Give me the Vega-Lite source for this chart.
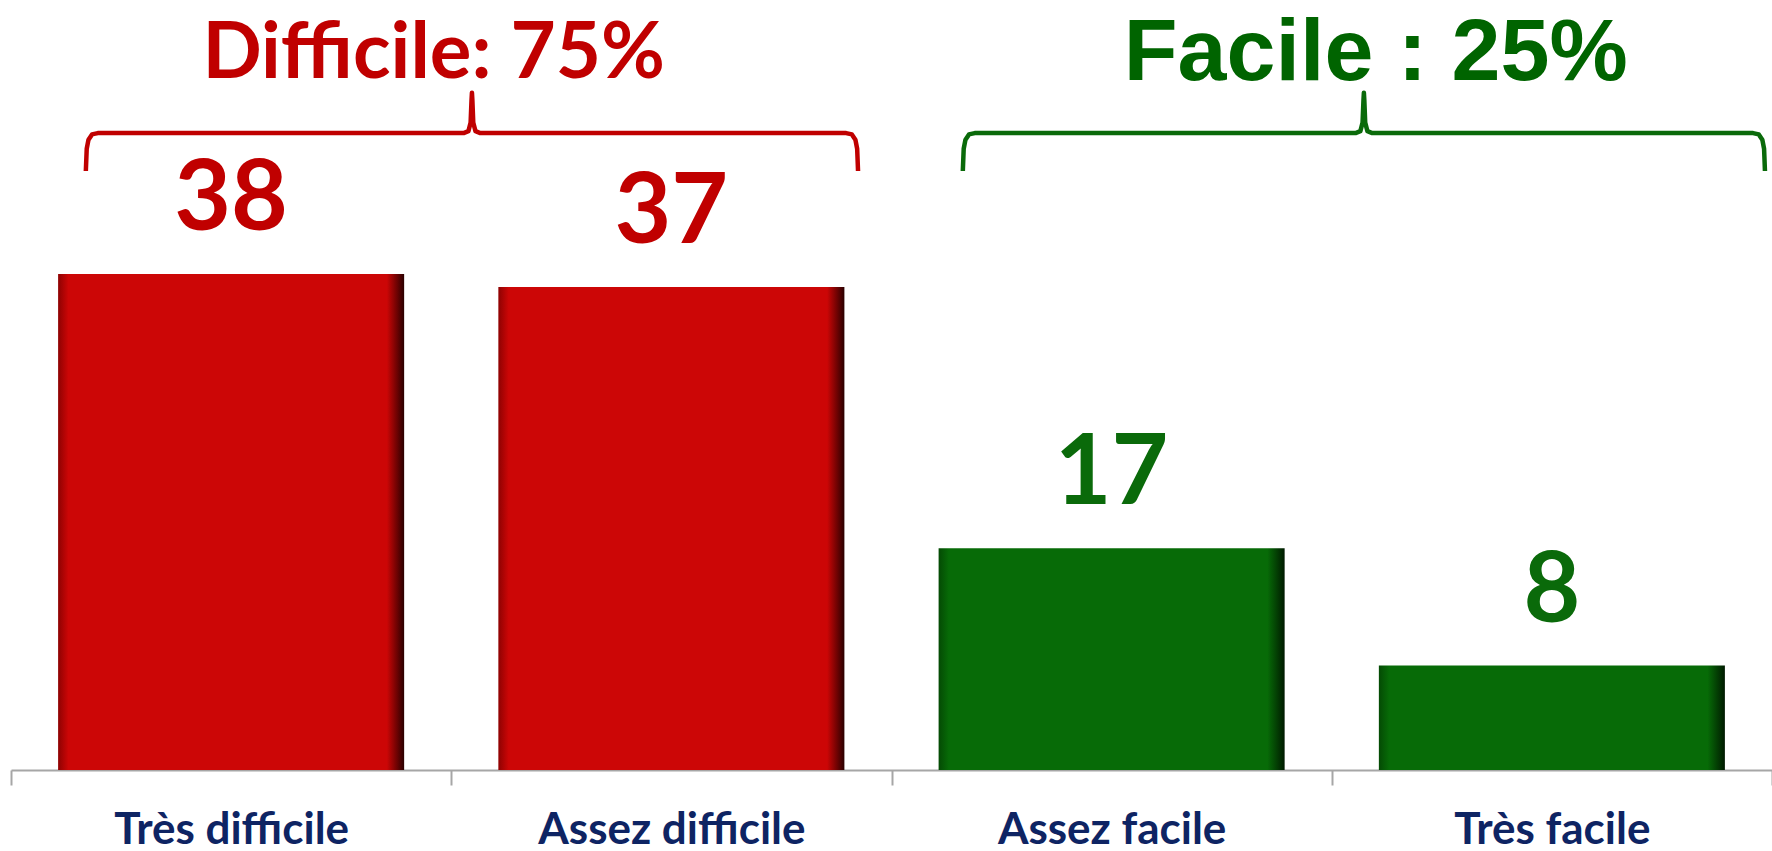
{
  "$schema": "https://vega.github.io/schema/vega-lite/v6.json",
  "width": 1761,
  "height": 770,
  "autosize": {"type": "none"},
  "padding": {"left": 11, "top": 0, "right": 0, "bottom": 81},
  "background": "white",
  "config": {"view": {"stroke": null}},
  "datasets": {
    "bars": [
      {"cat": "Très difficile", "grp": "Difficile", "value": 38},
      {"cat": "Assez difficile", "grp": "Difficile", "value": 37},
      {"cat": "Assez facile", "grp": "Facile", "value": 17},
      {"cat": "Très facile", "grp": "Facile", "value": 8}
    ],
    "braces": [
      {"grp": "Difficile", "ord": 1, "x": 0.170, "y": 45.9},
      {"grp": "Difficile", "ord": 2, "x": 0.172, "y": 47.6},
      {"grp": "Difficile", "ord": 3, "x": 0.176, "y": 48.3},
      {"grp": "Difficile", "ord": 4, "x": 0.184, "y": 48.7},
      {"grp": "Difficile", "ord": 5, "x": 0.197, "y": 48.8},
      {"grp": "Difficile", "ord": 6, "x": 1.028, "y": 48.8},
      {"grp": "Difficile", "ord": 7, "x": 1.039, "y": 48.95},
      {"grp": "Difficile", "ord": 8, "x": 1.044, "y": 49.6},
      {"grp": "Difficile", "ord": 9, "x": 1.046, "y": 51.3},
      {"grp": "Difficile", "ord": 10, "x": 1.047, "y": 51.9},
      {"grp": "Difficile", "ord": 11, "x": 1.048, "y": 51.3},
      {"grp": "Difficile", "ord": 12, "x": 1.050, "y": 49.6},
      {"grp": "Difficile", "ord": 13, "x": 1.055, "y": 48.95},
      {"grp": "Difficile", "ord": 14, "x": 1.066, "y": 48.8},
      {"grp": "Difficile", "ord": 15, "x": 1.897, "y": 48.8},
      {"grp": "Difficile", "ord": 16, "x": 1.910, "y": 48.7},
      {"grp": "Difficile", "ord": 17, "x": 1.918, "y": 48.3},
      {"grp": "Difficile", "ord": 18, "x": 1.922, "y": 47.6},
      {"grp": "Difficile", "ord": 19, "x": 1.924, "y": 45.9},
      {"grp": "Facile", "ord": 1, "x": 2.162, "y": 45.9},
      {"grp": "Facile", "ord": 2, "x": 2.164, "y": 47.6},
      {"grp": "Facile", "ord": 3, "x": 2.168, "y": 48.3},
      {"grp": "Facile", "ord": 4, "x": 2.176, "y": 48.7},
      {"grp": "Facile", "ord": 5, "x": 2.189, "y": 48.8},
      {"grp": "Facile", "ord": 6, "x": 3.054, "y": 48.8},
      {"grp": "Facile", "ord": 7, "x": 3.065, "y": 48.95},
      {"grp": "Facile", "ord": 8, "x": 3.070, "y": 49.6},
      {"grp": "Facile", "ord": 9, "x": 3.072, "y": 51.3},
      {"grp": "Facile", "ord": 10, "x": 3.073, "y": 51.9},
      {"grp": "Facile", "ord": 11, "x": 3.074, "y": 51.3},
      {"grp": "Facile", "ord": 12, "x": 3.076, "y": 49.6},
      {"grp": "Facile", "ord": 13, "x": 3.081, "y": 48.95},
      {"grp": "Facile", "ord": 14, "x": 3.092, "y": 48.8},
      {"grp": "Facile", "ord": 15, "x": 3.957, "y": 48.8},
      {"grp": "Facile", "ord": 16, "x": 3.970, "y": 48.7},
      {"grp": "Facile", "ord": 17, "x": 3.978, "y": 48.3},
      {"grp": "Facile", "ord": 18, "x": 3.982, "y": 47.6},
      {"grp": "Facile", "ord": 19, "x": 3.984, "y": 45.9}
    ],
    "headers": [
      {"grp": "Difficile", "label": "Difficile: 75%", "x": 0.96, "y": 53.0},
      {"grp": "Facile", "label": "Facile : 25%", "x": 3.10, "y": 52.9}
    ]
  },
  "resolve": {"scale": {"x": "independent"}},
  "layer": [
    {
      "data": {"name": "bars"},
      "encoding": {
        "x": {
          "field": "cat",
          "type": "nominal",
          "sort": null,
          "scale": {"paddingInner": 0, "paddingOuter": 0},
          "axis": {
            "title": null,
            "labelAngle": 0,
            "labelLimit": 0,
            "labelFont": "Lato",
            "labelFontWeight": "bold",
            "labelFontSize": 44,
            "labelColor": "#0E2463",
            "labelBaseline": "alphabetic",
            "labelPadding": 58,
            "tickBand": "extent",
            "tickSize": 15,
            "tickColor": "#A6A6A6",
            "tickWidth": 2,
            "domainColor": "#A6A6A6",
            "domainWidth": 2,
            "grid": false
          }
        },
        "y": {
          "field": "value",
          "type": "quantitative",
          "scale": {"domain": [0, 59], "nice": false, "zero": true},
          "axis": null
        }
      },
      "layer": [
        {
          "transform": [{"filter": "datum.grp === 'Difficile'"}],
          "mark": {
            "type": "bar",
            "width": {"band": 0.786},
            "color": {
              "gradient": "linear", "x1": 0, "y1": 0, "x2": 1, "y2": 0,
              "stops": [
                {"offset": 0, "color": "#8E0202"},
                {"offset": 0.03, "color": "#CC0606"},
                {"offset": 0.95, "color": "#CC0606"},
                {"offset": 1, "color": "#2A0000"}
              ]
            }
          }
        },
        {
          "transform": [{"filter": "datum.grp === 'Facile'"}],
          "mark": {
            "type": "bar",
            "width": {"band": 0.786},
            "color": {
              "gradient": "linear", "x1": 0, "y1": 0, "x2": 1, "y2": 0,
              "stops": [
                {"offset": 0, "color": "#044A04"},
                {"offset": 0.03, "color": "#076B07"},
                {"offset": 0.95, "color": "#076B07"},
                {"offset": 1, "color": "#001A00"}
              ]
            }
          }
        },
        {
          "mark": {
            "type": "text",
            "font": "Lato",
            "fontWeight": "bold",
            "fontSize": 98,
            "baseline": "alphabetic",
            "dy": -44
          },
          "encoding": {
            "text": {"field": "value", "type": "quantitative"},
            "color": {
              "field": "grp",
              "type": "nominal",
              "scale": {"domain": ["Difficile", "Facile"], "range": ["#C00000", "#0A6A0A"]},
              "legend": null
            }
          }
        }
      ]
    },
    {
      "encoding": {
        "x": {"field": "x", "type": "quantitative", "scale": {"domain": [0, 4], "nice": false, "zero": false}, "axis": null},
        "y": {"field": "y", "type": "quantitative", "axis": null}
      },
      "layer": [
        {
          "data": {"name": "braces"},
          "mark": {"type": "line", "strokeWidth": 4.5, "interpolate": "linear", "strokeJoin": "round"},
          "encoding": {
            "order": {"field": "ord", "type": "quantitative"},
            "detail": {"field": "grp", "type": "nominal"},
            "color": {"field": "grp", "type": "nominal", "legend": null}
          }
        },
        {
          "data": {"name": "headers"},
          "transform": [{"filter": "datum.grp === 'Difficile'"}],
          "mark": {"type": "text", "font": "Lato", "fontWeight": "bold", "fontSize": 78, "baseline": "alphabetic", "align": "center", "color": "#C00000"},
          "encoding": {"text": {"field": "label", "type": "nominal"}}
        },
        {
          "data": {"name": "headers"},
          "transform": [{"filter": "datum.grp === 'Facile'"}],
          "mark": {"type": "text", "font": "Liberation Sans", "fontWeight": "bold", "fontSize": 88, "baseline": "alphabetic", "align": "center", "color": "#006400"},
          "encoding": {"text": {"field": "label", "type": "nominal"}}
        }
      ]
    }
  ]
}
